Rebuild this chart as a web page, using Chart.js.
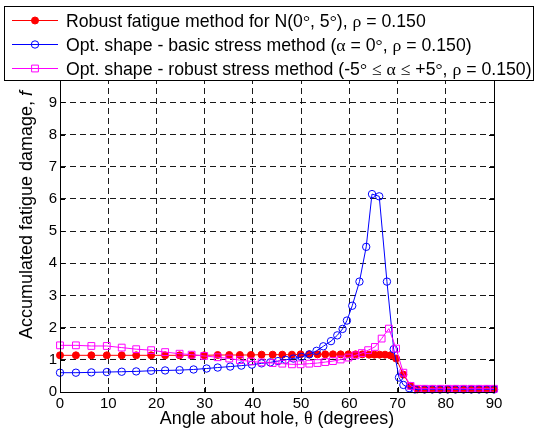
<!DOCTYPE html>
<html>
<head>
<meta charset="utf-8">
<script src="https://cdn.jsdelivr.net/npm/chart.js@4/dist/chart.umd.min.js"></script>
<style>
  body { margin: 0; background: #fff; }
  #wrap { width: 539px; height: 435px; }
</style>
</head>
<body>
<div id="wrap"><canvas id="myChart" width="539" height="435"></canvas></div>
<script>
// x ticks / y ticks
var xTicks = [0, 10, 20, 30, 40, 50, 60, 70, 80, 90];
var yTicks = [0, 1, 2, 3, 4, 5, 6, 7, 8, 9, 10, 11];

var seriesNames = [
    'Robust fatigue method for N(0°, 5°), ρ = 0.150',
    'Opt. shape - basic stress method (α = 0°, ρ = 0.150)',
    'Opt. shape - robust stress method (-5° ≤ α ≤ +5°, ρ = 0.150)'
];
var xTitle = 'Angle about hole, θ (degrees)';
var yTitle = 'Accumulated fatigue damage, f';

// robust fatigue method (red)
var redX = [0, 3.3, 6.5, 9.7, 12.8, 15.8, 18.9, 21.8, 24.8, 27.3,
    29.9, 32.7, 35.1, 37.3, 39.6, 41.8, 44.1, 46.1, 48.1, 49.9,
    51.7, 53.4, 55.0, 56.6, 58.2, 59.8, 61.3, 62.7, 64.1, 65.2,
    66.3, 67.4, 68.5, 69.7, 71.2, 72.7, 74.1, 75.6, 77.2, 78.8,
    80.4, 82.0, 83.7, 85.3, 86.9, 88.5, 90];
var redY = [1.14, 1.14, 1.14, 1.14, 1.14, 1.14, 1.14, 1.14, 1.14, 1.14,
    1.14, 1.15, 1.15, 1.15, 1.15, 1.16, 1.16, 1.16, 1.16, 1.17,
    1.17, 1.17, 1.17, 1.17, 1.17, 1.17, 1.17, 1.17, 1.16, 1.16,
    1.16, 1.16, 1.14, 1.04, 0.54, 0.19, 0.08, 0.08, 0.08, 0.08,
    0.08, 0.08, 0.08, 0.08, 0.08, 0.08, 0.08];

// basic stress method (blue)
var blueX = [0, 3.3, 6.5, 9.7, 12.8, 15.8, 18.9, 21.8, 24.8, 27.7,
    30.4, 32.7, 35.3, 37.6, 39.8, 41.8, 43.6, 45.2, 46.8, 48.4,
    50.1, 51.7, 53.2, 54.6, 56.2, 57.5, 58.6, 59.5, 60.6, 62.1,
    63.5, 64.7, 66.2, 67.8, 69.2, 70.3, 71.2, 72.4, 73.6, 75.6,
    77.2, 78.8, 80.4, 82.0, 83.7, 85.3, 86.9, 88.5, 90];
var blueY = [0.60, 0.60, 0.61, 0.62, 0.63, 0.64, 0.66, 0.67, 0.68, 0.70,
    0.73, 0.76, 0.79, 0.82, 0.85, 0.89, 0.92, 0.96, 1.00, 1.04,
    1.09, 1.17, 1.28, 1.42, 1.58, 1.76, 1.96, 2.22, 2.68, 3.43,
    4.51, 6.15, 6.08, 3.43, 1.33, 0.45, 0.22, 0.12, 0.08, 0.08,
    0.08, 0.08, 0.08, 0.08, 0.08, 0.08, 0.08, 0.08, 0.08];

// robust stress method (magenta)
var pinkX = [0, 3.3, 6.5, 9.7, 12.8, 15.8, 18.9, 21.8, 24.8, 27.3,
    29.9, 32.7, 35.1, 37.3, 39.6, 41.8, 44.1, 46.1, 48.1, 49.9,
    51.7, 53.4, 55.0, 56.6, 58.2, 59.8, 61.3, 62.6, 63.9, 65.3,
    66.7, 68.2, 69.7, 71.2, 72.7, 74.2, 75.7, 77.3, 78.9, 80.5,
    82.1, 83.7, 85.3, 86.9, 88.5, 90];
var pinkY = [1.45, 1.45, 1.43, 1.43, 1.38, 1.33, 1.30, 1.24, 1.19, 1.16,
    1.12, 1.08, 1.04, 0.99, 0.95, 0.92, 0.90, 0.88, 0.86, 0.86,
    0.88, 0.90, 0.93, 0.96, 1.01, 1.07, 1.14, 1.21, 1.30, 1.40,
    1.66, 1.97, 1.35, 0.60, 0.19, 0.10, 0.10, 0.10, 0.10, 0.10,
    0.10, 0.10, 0.10, 0.10, 0.10, 0.10];

var SANS = "'Liberation Sans', Arial, sans-serif";
var SERIF = "'Liberation Serif', 'Times New Roman', serif";
var SYMBOLS = 'ραθ≤°';

function toPoints(xs, ys) {
    return xs.map(function (x, i) { return { x: x, y: ys[i] }; });
}

// split text into runs: greek/symbol chars in serif, optional italic last char
function makeRuns(text, size, italicLast) {
    var runs = [];
    for (var i = 0; i < text.length; i++) {
        var ch = text[i];
        var font = size + 'px ' + SANS;
        if (SYMBOLS.indexOf(ch) >= 0) font = size + 'px ' + SERIF;
        if (italicLast && i === text.length - 1) font = 'italic ' + size + 'px ' + SANS;
        if (runs.length && runs[runs.length - 1].font === font) {
            runs[runs.length - 1].t += ch;
        } else {
            runs.push({ t: ch, font: font });
        }
    }
    return runs;
}

function drawRuns(ctx, runs, x, y, align) {
    var total = 0;
    runs.forEach(function (r) { ctx.font = r.font; r.w = ctx.measureText(r.t).width; total += r.w; });
    var cx = align === 'center' ? x - total / 2 : x;
    ctx.textAlign = 'left';
    ctx.textBaseline = 'alphabetic';
    runs.forEach(function (r) { ctx.font = r.font; ctx.fillText(r.t, cx, y); cx += r.w; });
}

function drawMarker(ctx, style, x, y, r, color) {
    ctx.strokeStyle = color;
    ctx.fillStyle = color;
    ctx.lineWidth = 1;
    ctx.beginPath();
    if (style === 'rect') {
        var s = r * Math.SQRT1_2;
        ctx.rect(x - s, y - s, 2 * s, 2 * s);
        ctx.stroke();
    } else {
        ctx.arc(x, y, r, 0, Math.PI * 2);
        if (style === 'dot') ctx.fill();
        ctx.stroke();
    }
}

var colors = ['#ff0000', '#0000ff', '#ff00ff'];
var markerStyles = ['dot', 'circle', 'rect'];
var markerSizes = [3.5, 3.7, 4.8];

// box, inward ticks, titles and legend
var decorations = {
    id: 'decorations',
    afterDatasetsDraw: function (chart) {
        var ctx = chart.ctx;
        var a = chart.chartArea;
        var xs = chart.scales.x, ys = chart.scales.y;
        ctx.save();
        ctx.strokeStyle = '#000';
        ctx.lineWidth = 1;
        ctx.beginPath();
        xTicks.forEach(function (v) {
            var px = Math.round(xs.getPixelForValue(v)) + 0.5;
            ctx.moveTo(px, a.bottom); ctx.lineTo(px, a.bottom - 5);
            ctx.moveTo(px, a.top); ctx.lineTo(px, a.top + 5);
        });
        yTicks.forEach(function (v) {
            var py = Math.round(ys.getPixelForValue(v)) + 0.5;
            ctx.moveTo(a.left, py); ctx.lineTo(a.left + 5, py);
            ctx.moveTo(a.right, py); ctx.lineTo(a.right - 5, py);
        });
        ctx.stroke();
        ctx.strokeRect(Math.round(a.left) + 0.5, Math.round(a.top) + 0.5,
            Math.round(a.right - a.left), Math.round(a.bottom - a.top));
        ctx.restore();
    },
    afterDraw: function (chart) {
        var ctx = chart.ctx;
        var a = chart.chartArea;
        ctx.save();
        ctx.fillStyle = '#000';
        drawRuns(ctx, makeRuns(xTitle, 17.9, false), (a.left + a.right) / 2, 424, 'center');
        ctx.save();
        ctx.translate(31.5, (a.top + a.bottom) / 2);
        ctx.rotate(-Math.PI / 2);
        ctx.fillStyle = '#000';
        drawRuns(ctx, makeRuns(yTitle, 18, true), 0, 0, 'center');
        ctx.restore();

        // legend
        ctx.fillStyle = '#fff';
        ctx.fillRect(4, 6, 530, 75);
        ctx.strokeStyle = '#000';
        ctx.lineWidth = 1;
        ctx.strokeRect(4.5, 6.5, 529, 74);
        var rows = [20.5, 44.5, 68.5];
        for (var i = 0; i < seriesNames.length; i++) {
            var yy = rows[i];
            ctx.strokeStyle = colors[i];
            ctx.lineWidth = 1;
            ctx.beginPath();
            ctx.moveTo(12, yy); ctx.lineTo(58, yy);
            ctx.stroke();
            drawMarker(ctx, markerStyles[i], 35, yy, markerSizes[i], colors[i]);
            ctx.fillStyle = '#000';
            drawRuns(ctx, makeRuns(seriesNames[i], 17.7, false), 66, yy + 6.5, 'left');
        }
        ctx.restore();
    }
};

var ctx = document.getElementById('myChart').getContext('2d');
var myChart = new Chart(ctx, {
    type: 'line',
    data: {
        datasets: [{
            data: toPoints(redX, redY),
            borderColor: colors[0],
            backgroundColor: colors[0],
            pointBackgroundColor: colors[0],
            pointStyle: 'circle',
            pointRadius: markerSizes[0],
            borderWidth: 1,
            pointBorderWidth: 1,
            clip: false,
            order: 3
        }, {
            data: toPoints(blueX, blueY),
            borderColor: colors[1],
            backgroundColor: 'rgba(0,0,0,0)',
            pointBackgroundColor: 'rgba(0,0,0,0)',
            pointStyle: 'circle',
            pointRadius: markerSizes[1],
            borderWidth: 1,
            pointBorderWidth: 1,
            clip: false,
            order: 2
        }, {
            data: toPoints(pinkX, pinkY),
            borderColor: colors[2],
            backgroundColor: 'rgba(0,0,0,0)',
            pointBackgroundColor: 'rgba(0,0,0,0)',
            pointStyle: 'rect',
            pointRadius: markerSizes[2],
            borderWidth: 1,
            pointBorderWidth: 1,
            clip: false,
            order: 1
        }]
    },
    options: {
        responsive: false,
        animation: false,
        layout: { padding: { left: 0, right: 45, top: 38, bottom: 0 } },
        plugins: { legend: { display: false }, tooltip: { enabled: false } },
        scales: {
            x: {
                type: 'linear',
                min: 0,
                max: 90,
                afterFit: function (scale) { scale.height = 43; },
                afterBuildTicks: function (scale) { scale.ticks = xTicks.map(function (v) { return { value: v }; }); },
                ticks: { color: '#000', font: { family: SANS, size: 15 }, padding: 3, maxRotation: 0 },
                grid: { color: 'rgba(0,0,0,0.9)', drawTicks: false, lineWidth: 1 },
                border: { display: false, dash: [6, 4] }
            },
            y: {
                type: 'linear',
                min: 0,
                max: 11,
                afterFit: function (scale) { scale.width = 60; },
                afterBuildTicks: function (scale) { scale.ticks = yTicks.map(function (v) { return { value: v }; }); },
                ticks: { color: '#000', font: { family: SANS, size: 15 }, padding: 3 },
                grid: { color: 'rgba(0,0,0,0.9)', drawTicks: false, lineWidth: 1 },
                border: { display: false, dash: [6, 4] }
            }
        }
    },
    plugins: [decorations]
});
</script>
</body>
</html>
